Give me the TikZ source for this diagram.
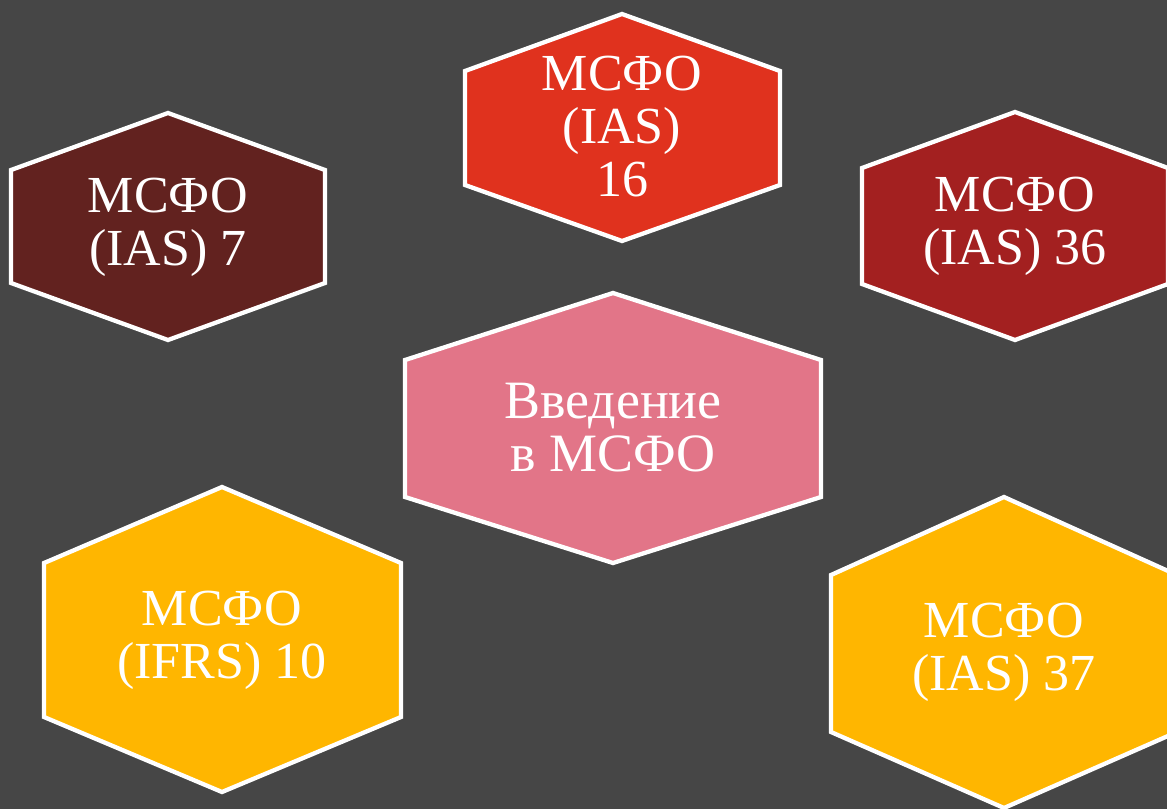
\documentclass[tikz,border=0pt]{standalone}
\usepackage{fontspec}
\setmainfont{Liberation Serif}
\definecolor{bg}{HTML}{464646}
\definecolor{cRed}{HTML}{E0321E}
\definecolor{cBrown}{HTML}{62221F}
\definecolor{cCrimson}{HTML}{A32020}
\definecolor{cPink}{HTML}{E27588}
\definecolor{cYellow}{HTML}{FFB600}
\tikzset{
  hexbox/.style={draw=white, line width=4.3pt, line join=miter},
  hexlabel/.style={text=white, align=center, font=\fontsize{52}{53}\selectfont, inner sep=0pt}
}
\begin{document}
\begin{tikzpicture}[x=1pt,y=-1pt]
\useasboundingbox (0,0) rectangle (1167,809);
\clip (0,0) rectangle (1167,809);
\fill[bg] (0,0) rectangle (1167,809);
% top
\filldraw[hexbox, fill=cRed] (622,14) -- (780,71) -- (780,185) -- (622,241) -- (465,185) -- (465,71) -- cycle;
\node[hexlabel] (t16) at (622,127) {МСФО\\(IAS)\\16};
% left
\filldraw[hexbox, fill=cBrown] (168,113) -- (325,170) -- (325,283) -- (168,340) -- (11,283) -- (11,170) -- cycle;
\node[hexlabel] (t7) at (168,227) {МСФО\\(IAS) 7};
% right
\filldraw[hexbox, fill=cCrimson] (1015,112) -- (1168,168) -- (1168,284) -- (1015,340) -- (862,284) -- (862,168) -- cycle;
\node[hexlabel] (t36) at (1015,226) {МСФО\\(IAS) 36};
% center
\filldraw[hexbox, fill=cPink] (613,293) -- (821,360) -- (821,497) -- (613,563) -- (405,497) -- (405,360) -- cycle;
\node[hexlabel, font=\fontsize{54}{53}\selectfont] (intro) at (613,428) {Введение\\в МСФО};
% bottom left
\filldraw[hexbox, fill=cYellow] (222,487) -- (401,563) -- (401,717) -- (222,792) -- (44,717) -- (44,563) -- cycle;
\node[hexlabel] (t10) at (222,640) {МСФО\\(IFRS) 10};
% bottom right
\filldraw[hexbox, fill=cYellow] (1004,497) -- (1177,575) -- (1177,732) -- (1004,808) -- (831,732) -- (831,575) -- cycle;
\node[hexlabel] (t37) at (1004,652) {МСФО\\(IAS) 37};
\end{tikzpicture}
\end{document}
